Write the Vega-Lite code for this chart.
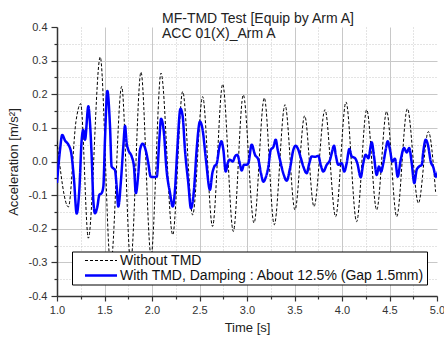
{
  "$schema": "https://vega.github.io/schema/vega-lite/v6.json",
  "width": 380,
  "height": 269,
  "autosize": {"type": "none"},
  "padding": {"left": 57, "top": 27, "right": 7, "bottom": 44},
  "background": "white",
  "config": {"font": "Liberation Sans", "view": {"stroke": null}},
  "title": {
    "text": ["MF-TMD Test [Equip by Arm A]", "ACC 01(X)_Arm A"],
    "anchor": "start",
    "frame": "group",
    "dx": 105,
    "offset": -20,
    "fontSize": 14,
    "fontWeight": "normal",
    "lineHeight": 15,
    "color": "#222"
  },
  "data": {
    "values": [
      {"s": "Without TMD", "t": 1.0, "a": 0.06},
      {"s": "Without TMD", "t": 1.12, "a": -0.135},
      {"s": "Without TMD", "t": 1.2, "a": 0.12},
      {"s": "Without TMD", "t": 1.249, "a": 0.172},
      {"s": "Without TMD", "t": 1.33, "a": -0.228},
      {"s": "Without TMD", "t": 1.455, "a": 0.311},
      {"s": "Without TMD", "t": 1.565, "a": -0.31},
      {"s": "Without TMD", "t": 1.681, "a": 0.223},
      {"s": "Without TMD", "t": 1.775, "a": -0.3},
      {"s": "Without TMD", "t": 1.884, "a": 0.266},
      {"s": "Without TMD", "t": 1.99, "a": -0.28},
      {"s": "Without TMD", "t": 2.095, "a": 0.263},
      {"s": "Without TMD", "t": 2.218, "a": -0.218},
      {"s": "Without TMD", "t": 2.323, "a": 0.208},
      {"s": "Without TMD", "t": 2.428, "a": -0.159},
      {"s": "Without TMD", "t": 2.533, "a": 0.193},
      {"s": "Without TMD", "t": 2.637, "a": -0.193},
      {"s": "Without TMD", "t": 2.744, "a": 0.23},
      {"s": "Without TMD", "t": 2.856, "a": -0.208},
      {"s": "Without TMD", "t": 2.961, "a": 0.198},
      {"s": "Without TMD", "t": 3.074, "a": -0.183},
      {"s": "Without TMD", "t": 3.182, "a": 0.189},
      {"s": "Without TMD", "t": 3.287, "a": -0.188},
      {"s": "Without TMD", "t": 3.4, "a": 0.169},
      {"s": "Without TMD", "t": 3.505, "a": -0.144},
      {"s": "Without TMD", "t": 3.607, "a": 0.136},
      {"s": "Without TMD", "t": 3.705, "a": -0.134},
      {"s": "Without TMD", "t": 3.821, "a": 0.154},
      {"s": "Without TMD", "t": 3.933, "a": -0.164},
      {"s": "Without TMD", "t": 4.042, "a": 0.177},
      {"s": "Without TMD", "t": 4.154, "a": -0.179},
      {"s": "Without TMD", "t": 4.26, "a": 0.154},
      {"s": "Without TMD", "t": 4.365, "a": -0.144},
      {"s": "Without TMD", "t": 4.47, "a": 0.149},
      {"s": "Without TMD", "t": 4.576, "a": -0.164},
      {"s": "Without TMD", "t": 4.688, "a": 0.157},
      {"s": "Without TMD", "t": 4.804, "a": -0.124},
      {"s": "Without TMD", "t": 4.909, "a": 0.089},
      {"s": "Without TMD", "t": 4.985, "a": -0.09},
      {"s": "With TMD", "t": 1.0, "a": -0.064},
      {"s": "With TMD", "t": 1.03, "a": 0.03},
      {"s": "With TMD", "t": 1.055, "a": 0.079},
      {"s": "With TMD", "t": 1.085, "a": 0.062},
      {"s": "With TMD", "t": 1.12, "a": 0.05},
      {"s": "With TMD", "t": 1.15, "a": 0.025},
      {"s": "With TMD", "t": 1.179, "a": -0.054},
      {"s": "With TMD", "t": 1.207, "a": -0.155},
      {"s": "With TMD", "t": 1.235, "a": -0.084},
      {"s": "With TMD", "t": 1.26, "a": 0.065},
      {"s": "With TMD", "t": 1.277, "a": 0.094},
      {"s": "With TMD", "t": 1.295, "a": 0.065},
      {"s": "With TMD", "t": 1.33, "a": 0.164},
      {"s": "With TMD", "t": 1.345, "a": 0.124},
      {"s": "With TMD", "t": 1.365, "a": 0.015},
      {"s": "With TMD", "t": 1.382, "a": -0.114},
      {"s": "With TMD", "t": 1.4, "a": -0.154},
      {"s": "With TMD", "t": 1.425, "a": -0.134},
      {"s": "With TMD", "t": 1.446, "a": -0.099},
      {"s": "With TMD", "t": 1.47, "a": -0.094},
      {"s": "With TMD", "t": 1.488, "a": -0.074},
      {"s": "With TMD", "t": 1.505, "a": 0.065},
      {"s": "With TMD", "t": 1.53, "a": 0.21},
      {"s": "With TMD", "t": 1.558, "a": 0.104},
      {"s": "With TMD", "t": 1.575, "a": -0.015},
      {"s": "With TMD", "t": 1.592, "a": -0.02},
      {"s": "With TMD", "t": 1.61, "a": -0.025},
      {"s": "With TMD", "t": 1.628, "a": -0.074},
      {"s": "With TMD", "t": 1.645, "a": -0.134},
      {"s": "With TMD", "t": 1.674, "a": -0.054},
      {"s": "With TMD", "t": 1.698, "a": 0.045},
      {"s": "With TMD", "t": 1.716, "a": 0.106},
      {"s": "With TMD", "t": 1.733, "a": 0.055},
      {"s": "With TMD", "t": 1.75, "a": 0.035},
      {"s": "With TMD", "t": 1.786, "a": 0.015},
      {"s": "With TMD", "t": 1.81, "a": -0.015},
      {"s": "With TMD", "t": 1.83, "a": -0.094},
      {"s": "With TMD", "t": 1.856, "a": -0.035},
      {"s": "With TMD", "t": 1.874, "a": 0.035},
      {"s": "With TMD", "t": 1.902, "a": 0.053},
      {"s": "With TMD", "t": 1.937, "a": 0.03},
      {"s": "With TMD", "t": 1.961, "a": -0.005},
      {"s": "With TMD", "t": 1.986, "a": -0.045},
      {"s": "With TMD", "t": 2.014, "a": -0.046},
      {"s": "With TMD", "t": 2.05, "a": -0.045},
      {"s": "With TMD", "t": 2.077, "a": 0.065},
      {"s": "With TMD", "t": 2.095, "a": 0.127},
      {"s": "With TMD", "t": 2.126, "a": 0.084},
      {"s": "With TMD", "t": 2.15, "a": -0.015},
      {"s": "With TMD", "t": 2.19, "a": -0.094},
      {"s": "With TMD", "t": 2.218, "a": -0.134},
      {"s": "With TMD", "t": 2.242, "a": -0.084},
      {"s": "With TMD", "t": 2.266, "a": 0.035},
      {"s": "With TMD", "t": 2.3, "a": 0.157},
      {"s": "With TMD", "t": 2.323, "a": 0.134},
      {"s": "With TMD", "t": 2.347, "a": 0.035},
      {"s": "With TMD", "t": 2.382, "a": -0.064},
      {"s": "With TMD", "t": 2.41, "a": -0.139},
      {"s": "With TMD", "t": 2.442, "a": -0.084},
      {"s": "With TMD", "t": 2.47, "a": 0.035},
      {"s": "With TMD", "t": 2.505, "a": 0.119},
      {"s": "With TMD", "t": 2.533, "a": 0.094},
      {"s": "With TMD", "t": 2.568, "a": 0.005},
      {"s": "With TMD", "t": 2.61, "a": -0.084},
      {"s": "With TMD", "t": 2.635, "a": -0.035},
      {"s": "With TMD", "t": 2.656, "a": -0.015},
      {"s": "With TMD", "t": 2.68, "a": -0.007},
      {"s": "With TMD", "t": 2.708, "a": 0.04},
      {"s": "With TMD", "t": 2.73, "a": 0.06},
      {"s": "With TMD", "t": 2.751, "a": 0.035},
      {"s": "With TMD", "t": 2.776, "a": -0.03},
      {"s": "With TMD", "t": 2.797, "a": -0.005},
      {"s": "With TMD", "t": 2.82, "a": 0.005},
      {"s": "With TMD", "t": 2.85, "a": 0.0},
      {"s": "With TMD", "t": 2.874, "a": 0.015},
      {"s": "With TMD", "t": 2.898, "a": 0.02},
      {"s": "With TMD", "t": 2.92, "a": 0.0},
      {"s": "With TMD", "t": 2.944, "a": -0.027},
      {"s": "With TMD", "t": 2.968, "a": -0.01},
      {"s": "With TMD", "t": 2.99, "a": -0.01},
      {"s": "With TMD", "t": 3.014, "a": -0.005},
      {"s": "With TMD", "t": 3.049, "a": 0.05},
      {"s": "With TMD", "t": 3.084, "a": 0.02},
      {"s": "With TMD", "t": 3.12, "a": 0.005},
      {"s": "With TMD", "t": 3.147, "a": -0.035},
      {"s": "With TMD", "t": 3.172, "a": -0.06},
      {"s": "With TMD", "t": 3.2, "a": -0.045},
      {"s": "With TMD", "t": 3.225, "a": -0.015},
      {"s": "With TMD", "t": 3.25, "a": 0.035},
      {"s": "With TMD", "t": 3.277, "a": 0.043},
      {"s": "With TMD", "t": 3.302, "a": 0.065},
      {"s": "With TMD", "t": 3.323, "a": 0.035},
      {"s": "With TMD", "t": 3.347, "a": 0.005},
      {"s": "With TMD", "t": 3.382, "a": -0.035},
      {"s": "With TMD", "t": 3.418, "a": -0.057},
      {"s": "With TMD", "t": 3.453, "a": -0.02},
      {"s": "With TMD", "t": 3.488, "a": 0.035},
      {"s": "With TMD", "t": 3.512, "a": 0.047},
      {"s": "With TMD", "t": 3.54, "a": 0.035},
      {"s": "With TMD", "t": 3.565, "a": 0.012},
      {"s": "With TMD", "t": 3.593, "a": -0.015},
      {"s": "With TMD", "t": 3.628, "a": -0.035},
      {"s": "With TMD", "t": 3.656, "a": -0.005},
      {"s": "With TMD", "t": 3.681, "a": 0.015},
      {"s": "With TMD", "t": 3.716, "a": 0.014},
      {"s": "With TMD", "t": 3.751, "a": 0.017},
      {"s": "With TMD", "t": 3.776, "a": -0.01},
      {"s": "With TMD", "t": 3.803, "a": -0.03},
      {"s": "With TMD", "t": 3.839, "a": -0.01},
      {"s": "With TMD", "t": 3.874, "a": 0.005},
      {"s": "With TMD", "t": 3.892, "a": 0.025},
      {"s": "With TMD", "t": 3.916, "a": 0.047},
      {"s": "With TMD", "t": 3.937, "a": 0.015},
      {"s": "With TMD", "t": 3.961, "a": -0.01},
      {"s": "With TMD", "t": 3.997, "a": -0.005},
      {"s": "With TMD", "t": 4.024, "a": -0.03},
      {"s": "With TMD", "t": 4.049, "a": -0.005},
      {"s": "With TMD", "t": 4.077, "a": 0.037},
      {"s": "With TMD", "t": 4.102, "a": 0.015},
      {"s": "With TMD", "t": 4.137, "a": 0.01},
      {"s": "With TMD", "t": 4.161, "a": -0.005},
      {"s": "With TMD", "t": 4.197, "a": -0.047},
      {"s": "With TMD", "t": 4.224, "a": -0.005},
      {"s": "With TMD", "t": 4.249, "a": 0.02},
      {"s": "With TMD", "t": 4.277, "a": 0.01},
      {"s": "With TMD", "t": 4.313, "a": 0.057},
      {"s": "With TMD", "t": 4.337, "a": 0.015},
      {"s": "With TMD", "t": 4.365, "a": -0.04},
      {"s": "With TMD", "t": 4.389, "a": -0.015},
      {"s": "With TMD", "t": 4.411, "a": -0.03},
      {"s": "With TMD", "t": 4.435, "a": -0.005},
      {"s": "With TMD", "t": 4.46, "a": 0.035},
      {"s": "With TMD", "t": 4.481, "a": 0.06},
      {"s": "With TMD", "t": 4.505, "a": 0.035},
      {"s": "With TMD", "t": 4.529, "a": 0.0},
      {"s": "With TMD", "t": 4.558, "a": 0.008},
      {"s": "With TMD", "t": 4.586, "a": -0.045},
      {"s": "With TMD", "t": 4.618, "a": 0.005},
      {"s": "With TMD", "t": 4.653, "a": 0.04},
      {"s": "With TMD", "t": 4.681, "a": 0.027},
      {"s": "With TMD", "t": 4.708, "a": 0.04},
      {"s": "With TMD", "t": 4.734, "a": -0.005},
      {"s": "With TMD", "t": 4.761, "a": -0.064},
      {"s": "With TMD", "t": 4.786, "a": -0.025},
      {"s": "With TMD", "t": 4.811, "a": -0.015},
      {"s": "With TMD", "t": 4.839, "a": -0.01},
      {"s": "With TMD", "t": 4.856, "a": 0.03},
      {"s": "With TMD", "t": 4.881, "a": 0.065},
      {"s": "With TMD", "t": 4.908, "a": 0.045},
      {"s": "With TMD", "t": 4.934, "a": 0.0},
      {"s": "With TMD", "t": 4.961, "a": -0.017},
      {"s": "With TMD", "t": 4.989, "a": -0.045},
      {"s": "With TMD", "t": 5.01, "a": -0.03}
    ]
  },
  "encoding": {
    "x": {
      "field": "t",
      "type": "quantitative",
      "scale": {"domain": [1, 5], "nice": false, "zero": false},
      "axis": {
        "values": [1, 1.25, 1.5, 1.75, 2, 2.25, 2.5, 2.75, 3, 3.25, 3.5, 3.75, 4, 4.25, 4.5, 4.75, 5],
        "format": ".1f",
        "labelExpr": "round(datum.value*4) % 2 == 1 ? '' : datum.label",
        "labelOverlap": false,
        "labelFlush": false,
        "labelFontSize": 11,
        "labelColor": "#333",
        "labelPadding": 3,
        "tickSize": {"condition": {"test": "round(datum.value*4) % 2 == 1", "value": 3}, "value": 5},
        "tickColor": "#333",
        "tickWidth": 1.2,
        "domainColor": "#333",
        "domainWidth": 1.5,
        "grid": true,
        "gridColor": "#c8c8c8",
        "gridWidth": 1,
        "gridDash": {"condition": {"test": "round(datum.value*4) % 2 == 1", "value": [1, 2]}, "value": []},
        "gridOpacity": {"condition": {"test": "datum.value > 4.99", "value": 0}, "value": 1},
        "title": "Time [s]",
        "titleFontSize": 13,
        "titleFontWeight": "normal",
        "titleColor": "#222",
        "titlePadding": 6
      }
    },
    "y": {
      "field": "a",
      "type": "quantitative",
      "scale": {"domain": [-0.4, 0.4], "nice": false},
      "axis": {
        "values": [-0.4, -0.35, -0.3, -0.25, -0.2, -0.15, -0.1, -0.05, 0, 0.05, 0.1, 0.15, 0.2, 0.25, 0.3, 0.35, 0.4],
        "format": ".1f",
        "labelExpr": "abs(round(datum.value*20)) % 2 == 1 ? '' : replace(datum.label, '\u2212', '-')",
        "labelOverlap": false,
        "labelFlush": false,
        "labelFontSize": 11,
        "labelColor": "#333",
        "labelPadding": 4,
        "tickSize": {"condition": {"test": "abs(round(datum.value*20)) % 2 == 1", "value": 3}, "value": 6},
        "tickColor": "#333",
        "tickWidth": 1.2,
        "domainColor": "#333",
        "domainWidth": 1.5,
        "grid": true,
        "gridColor": "#c8c8c8",
        "gridWidth": 1,
        "gridDash": {"condition": {"test": "abs(round(datum.value*20)) % 2 == 1", "value": [1, 2]}, "value": []},
        "gridOpacity": {"condition": {"test": "datum.value > 0.39", "value": 0}, "value": 1},
        "title": "Acceleration [m/s²]",
        "titleFontSize": 13,
        "titleFontWeight": "normal",
        "titleColor": "#222",
        "titlePadding": 8
      }
    },
    "color": {
      "field": "s",
      "type": "nominal",
      "scale": {"domain": ["Without TMD", "With TMD"], "range": ["#000000", "#0000ff"]},
      "legend": {
        "orient": "none",
        "legendX": 15,
        "legendY": 224.5,
        "title": null,
        "direction": "vertical",
        "symbolType": "M-1,0H7",
        "symbolSize": 64,
        "symbolOffset": 8,
        "labelFontSize": 14,
        "labelColor": "#111",
        "labelOffset": 24,
        "labelLimit": 0,
        "padding": 2,
        "rowPadding": 1,
        "strokeColor": "#000000",
        "fillColor": "#ffffff",
        "labelExpr": "datum.label == 'With TMD' ? 'With TMD, Damping : About 12.5% (Gap 1.5mm)' : datum.label"
      }
    },
    "strokeDash": {
      "field": "s",
      "type": "nominal",
      "scale": {"domain": ["Without TMD", "With TMD"], "range": [[3, 2], [1, 0]]}
    },
    "strokeWidth": {
      "field": "s",
      "type": "nominal",
      "scale": {"domain": ["Without TMD", "With TMD"], "range": [1, 2.5]}
    }
  },
  "layer": [
    {
      "transform": [{"filter": "datum.s == 'Without TMD'"}],
      "mark": {"type": "line", "interpolate": "monotone", "clip": true}
    },
    {
      "transform": [{"filter": "datum.s == 'With TMD'"}],
      "mark": {"type": "line", "interpolate": "monotone", "clip": true}
    }
  ]
}
